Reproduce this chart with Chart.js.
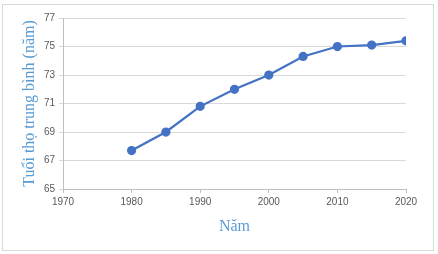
<!DOCTYPE html>
<html>
<head>
<meta charset="utf-8">
<script src="https://cdn.jsdelivr.net/npm/chart.js@4"></script>
<style>
  html, body { margin: 0; padding: 0; background: #fff; }
  #wrap { width: 438px; height: 254px; }
</style>
</head>
<body>
<div id="wrap"><canvas id="myChart" width="438" height="254"></canvas></div>
<script>
// data
const years = [1980, 1985, 1990, 1995, 2000, 2005, 2010, 2015, 2020];
const lifeExpectancy = [67.7, 69.0, 70.8, 72.0, 73.0, 74.3, 75.0, 75.1, 75.4];
const xTicks = [1970, 1980, 1990, 2000, 2010, 2020];
const yTicks = [65, 67, 69, 71, 73, 75, 77];

const xTitle = 'Năm';
const yTitle = 'Tuổi thọ trung bình (năm)';

const points = years.map(function (y, i) { return { x: y, y: lifeExpectancy[i] }; });

// outer frame of the chart
const frame = {
    id: 'frame',
    beforeDraw: function (chart) {
        const ctx = chart.ctx;
        ctx.save();
        ctx.fillStyle = '#fff';
        ctx.fillRect(0, 0, chart.width, chart.height);
        ctx.strokeStyle = '#d9d9d9';
        ctx.lineWidth = 1;
        ctx.strokeRect(2.5, 4.5, 431, 246);
        ctx.restore();
    }
};

const ctx = document.getElementById('myChart').getContext('2d');
const myChart = new Chart(ctx, {
    type: 'line',
    data: {
        datasets: [{
            data: points,
            borderColor: '#4472c4',
            backgroundColor: '#4472c4',
            borderWidth: 2.25,
            pointRadius: 3.5,
            pointHoverRadius: 3.5,
            tension: 0
        }]
    },
    options: {
        responsive: false,
        animation: false,
        layout: { padding: { left: 5, right: 32, top: 18, bottom: 0 } },
        plugins: { legend: { display: false }, tooltip: { enabled: false } },
        scales: {
            x: {
                type: 'linear',
                min: xTicks[0],
                max: xTicks[xTicks.length - 1],
                afterBuildTicks: function (axis) { axis.ticks = xTicks.map(function (v) { return { value: v }; }); },
                afterFit: function (axis) { axis.height = 65; },
                grid: { drawOnChartArea: false, drawTicks: true, tickLength: 4, color: '#bfbfbf' },
                border: { color: '#bfbfbf' },
                ticks: {
                    color: '#595959',
                    padding: 3,
                    font: { family: 'Liberation Sans', size: 10 },
                    callback: function (v) { return String(v); }
                },
                title: {
                    display: true,
                    text: xTitle,
                    color: '#5b9bd5',
                    font: { family: 'Liberation Serif', size: 16 },
                    padding: { top: 6, bottom: 18 }
                }
            },
            y: {
                min: yTicks[0],
                max: yTicks[yTicks.length - 1],
                afterBuildTicks: function (axis) { axis.ticks = yTicks.map(function (v) { return { value: v }; }); },
                afterFit: function (axis) { axis.width = 58; },
                grid: { color: '#d9d9d9', tickLength: 4 },
                border: { color: '#bfbfbf' },
                ticks: {
                    color: '#595959',
                    padding: 4,
                    font: { family: 'Liberation Sans', size: 10 }
                },
                title: {
                    display: true,
                    text: yTitle,
                    color: '#5b9bd5',
                    font: { family: 'Liberation Serif', size: 16 },
                    padding: { top: 15 }
                }
            }
        }
    },
    plugins: [frame]
});
</script>
</body>
</html>
